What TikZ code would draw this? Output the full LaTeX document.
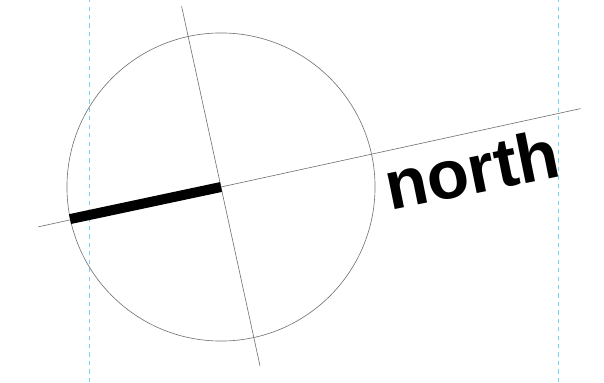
\documentclass[tikz,border=0pt]{standalone}
\usepackage{fontspec}
\setmainfont{Liberation Sans}
\begin{document}
\begin{tikzpicture}[x=0.025cm, y=0.025cm,
  guide/.style={cyan!55, dashed, line width=0.4pt},
  axis/.style={black!55, line width=0.45pt},
  every node/.style={inner sep=0pt}]
\useasboundingbox (0,0) rectangle (604,382);
% Guides
\coordinate (g1a) at (89,0); \coordinate (g1b) at (89,382);
\coordinate (g2a) at (558,0); \coordinate (g2b) at (558,382);
\draw[guide] (g1a) -- (g1b); \draw[guide] (g2a) -- (g2b);
% Circle
\node[draw, axis, circle, minimum size=7.7cm] (disk) at (221,195) {};
\coordinate (up) at ([shift={(102.3:185)}]disk.center);
\coordinate (down) at ([shift={(282.3:183)}]disk.center);
\coordinate (back) at ([shift={(192.3:187)}]disk.center);
\coordinate (front) at ([shift={(12.3:368)}]disk.center);
\draw[axis] (up) -- (down); \draw[axis] (back) -- (front);
\draw[line width=0.25cm] (disk.center) -- (disk.192.3);
% Label
\node[font=\bfseries\fontsize{49}{52}\selectfont, anchor=base west, rotate=11.5] (lbl) at (390,171) {north};
\end{tikzpicture}
\end{document}
